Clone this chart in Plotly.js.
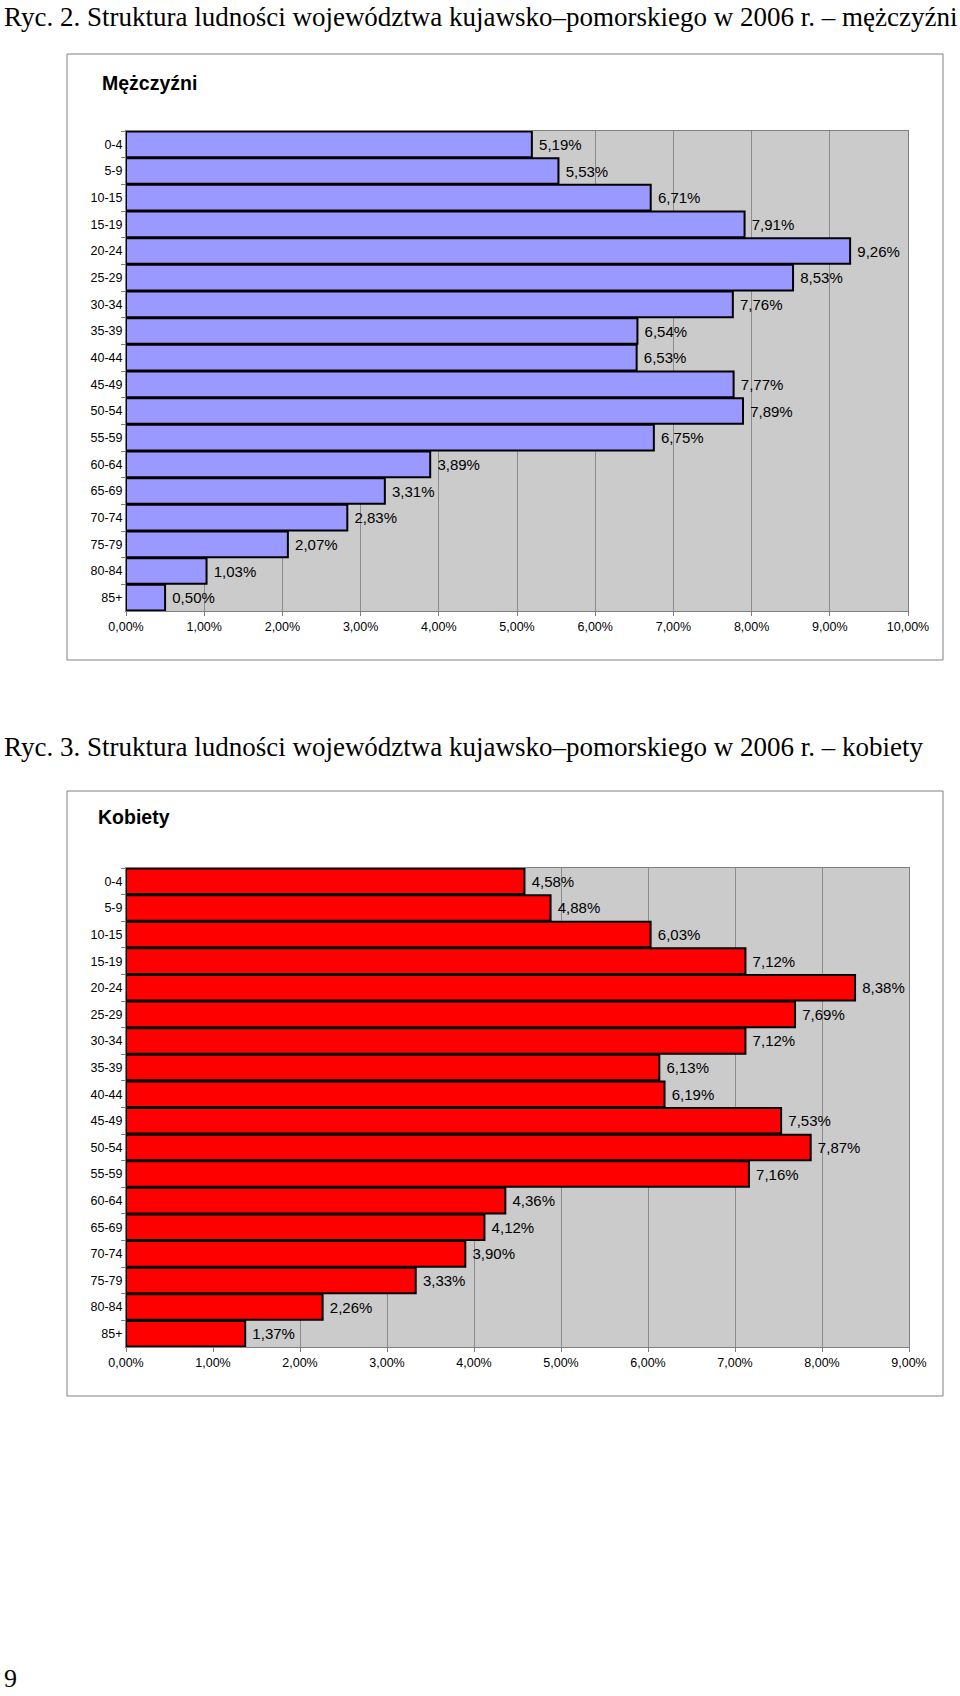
<!DOCTYPE html>
<html>
<head>
<meta charset="utf-8">
<script src="https://cdn.plot.ly/plotly-3.0.1.min.js"></script>
<style>
html,body{margin:0;padding:0;background:#fff;}
#chart{width:960px;height:1696px;}
</style>
</head>
<body>
<div id="chart"></div>
<script>
// ---- data ----
var ageGroups = ["0-4","5-9","10-15","15-19","20-24","25-29","30-34","35-39","40-44","45-49","50-54","55-59","60-64","65-69","70-74","75-79","80-84","85+"];
var menValues = [5.19,5.53,6.71,7.91,9.26,8.53,7.76,6.54,6.53,7.77,7.89,6.75,3.89,3.31,2.83,2.07,1.03,0.50];
var womenValues = [4.58,4.88,6.03,7.12,8.38,7.69,7.12,6.13,6.19,7.53,7.87,7.16,4.36,4.12,3.90,3.33,2.26,1.37];
var menTicks = [0,1,2,3,4,5,6,7,8,9,10];
var womenTicks = [0,1,2,3,4,5,6,7,8,9];
var pageTitle1 = "Ryc. 2. Struktura ludności województwa kujawsko–pomorskiego w 2006 r. – mężczyźni";
var pageTitle2 = "Ryc. 3. Struktura ludności województwa kujawsko–pomorskiego w 2006 r. – kobiety";
var chartTitle1 = "Mężczyźni";
var chartTitle2 = "Kobiety";
var pageNumber = "9";

// ---- layout helpers ----
var W = 960, H = 1696;
function px(x){ return x / W; }
function py(y){ return 1 - y / H; }
function fmt(v){ return v.toFixed(2).replace('.', ',') + '%'; }

var sans = 'Liberation Sans, Arial, sans-serif';
var serif = 'Liberation Serif, Times New Roman, serif';

function barTrace(vals, color, xa, ya){
  return {
    type: 'bar', orientation: 'h',
    y: ageGroups, x: vals,
    xaxis: xa, yaxis: ya,
    marker: {color: color, line: {color: '#000', width: 2}},
    text: vals.map(function(v){ return '\u00a0' + fmt(v); }),
    textposition: 'outside',
    textfont: {family: sans, size: 15, color: '#000'},
    constraintext: 'none',
    cliponaxis: false,
    hoverinfo: 'skip'
  };
}

function xAxis(domain, ticks, maxv, anchor){
  return {
    domain: domain, anchor: anchor, range: [0, maxv],
    tickvals: ticks, ticktext: ticks.map(function(t){ return fmt(t); }),
    showgrid: true, gridcolor: '#8c8c8c', gridwidth: 1,
    showline: true, linecolor: '#808080', linewidth: 1, mirror: true,
    ticks: 'outside', ticklen: 4, tickcolor: '#808080',
    tickfont: {family: sans, size: 12.5, color: '#000'},
    zeroline: false, fixedrange: true
  };
}
function yAxis(domain, anchor){
  return {
    domain: domain, anchor: anchor, type: 'category',
    autorange: 'reversed',
    showline: true, linecolor: '#808080', linewidth: 1, mirror: true,
    ticks: 'outside', ticklen: 4, tickcolor: '#808080', tickson: 'boundaries',
    tickfont: {family: sans, size: 12.5, color: '#000'},
    showgrid: false, zeroline: false, fixedrange: true
  };
}

var data = [
  barTrace(menValues, '#9999FF', 'x', 'y'),
  barTrace(womenValues, '#FF0000', 'x2', 'y2')
];

var layout = {
  width: W, height: H,
  margin: {l: 0, r: 0, t: 0, b: 0},
  paper_bgcolor: '#fff',
  plot_bgcolor: '#cbcbcb',
  showlegend: false,
  bargap: 0.04,
  xaxis: xAxis([px(126), px(908)], menTicks, 10, 'y'),
  yaxis: yAxis([py(611), py(131)], 'x'),
  xaxis2: xAxis([px(126), px(909)], womenTicks, 9, 'y2'),
  yaxis2: yAxis([py(1347), py(868)], 'x2'),
  shapes: [
    {type: 'rect', xref: 'paper', yref: 'paper', x0: px(67), x1: px(943), y0: py(54), y1: py(660),
     line: {color: '#808080', width: 1}, fillcolor: 'rgba(0,0,0,0)', layer: 'below'},
    {type: 'rect', xref: 'paper', yref: 'paper', x0: px(67), x1: px(943), y0: py(791), y1: py(1396),
     line: {color: '#808080', width: 1}, fillcolor: 'rgba(0,0,0,0)', layer: 'below'}
  ],
  annotations: [
    {text: pageTitle1, xref: 'paper', yref: 'paper', x: px(2), y: py(17), xanchor: 'left', yanchor: 'middle',
     showarrow: false, font: {family: serif, size: 27, color: '#000'}},
    {text: pageTitle2, xref: 'paper', yref: 'paper', x: px(2), y: py(747), xanchor: 'left', yanchor: 'middle',
     showarrow: false, font: {family: serif, size: 27, color: '#000'}},
    {text: '<b>' + chartTitle1 + '</b>', xref: 'paper', yref: 'paper', x: px(100), y: py(83), xanchor: 'left', yanchor: 'middle',
     showarrow: false, font: {family: sans, size: 19.5, color: '#000'}},
    {text: '<b>' + chartTitle2 + '</b>', xref: 'paper', yref: 'paper', x: px(96), y: py(817), xanchor: 'left', yanchor: 'middle',
     showarrow: false, font: {family: sans, size: 19.5, color: '#000'}},
    {text: pageNumber, xref: 'paper', yref: 'paper', x: px(2), y: py(1678), xanchor: 'left', yanchor: 'middle',
     showarrow: false, font: {family: serif, size: 26, color: '#000'}}
  ]
};

Plotly.newPlot('chart', data, layout, {staticPlot: true, displayModeBar: false});
</script>
</body>
</html>
